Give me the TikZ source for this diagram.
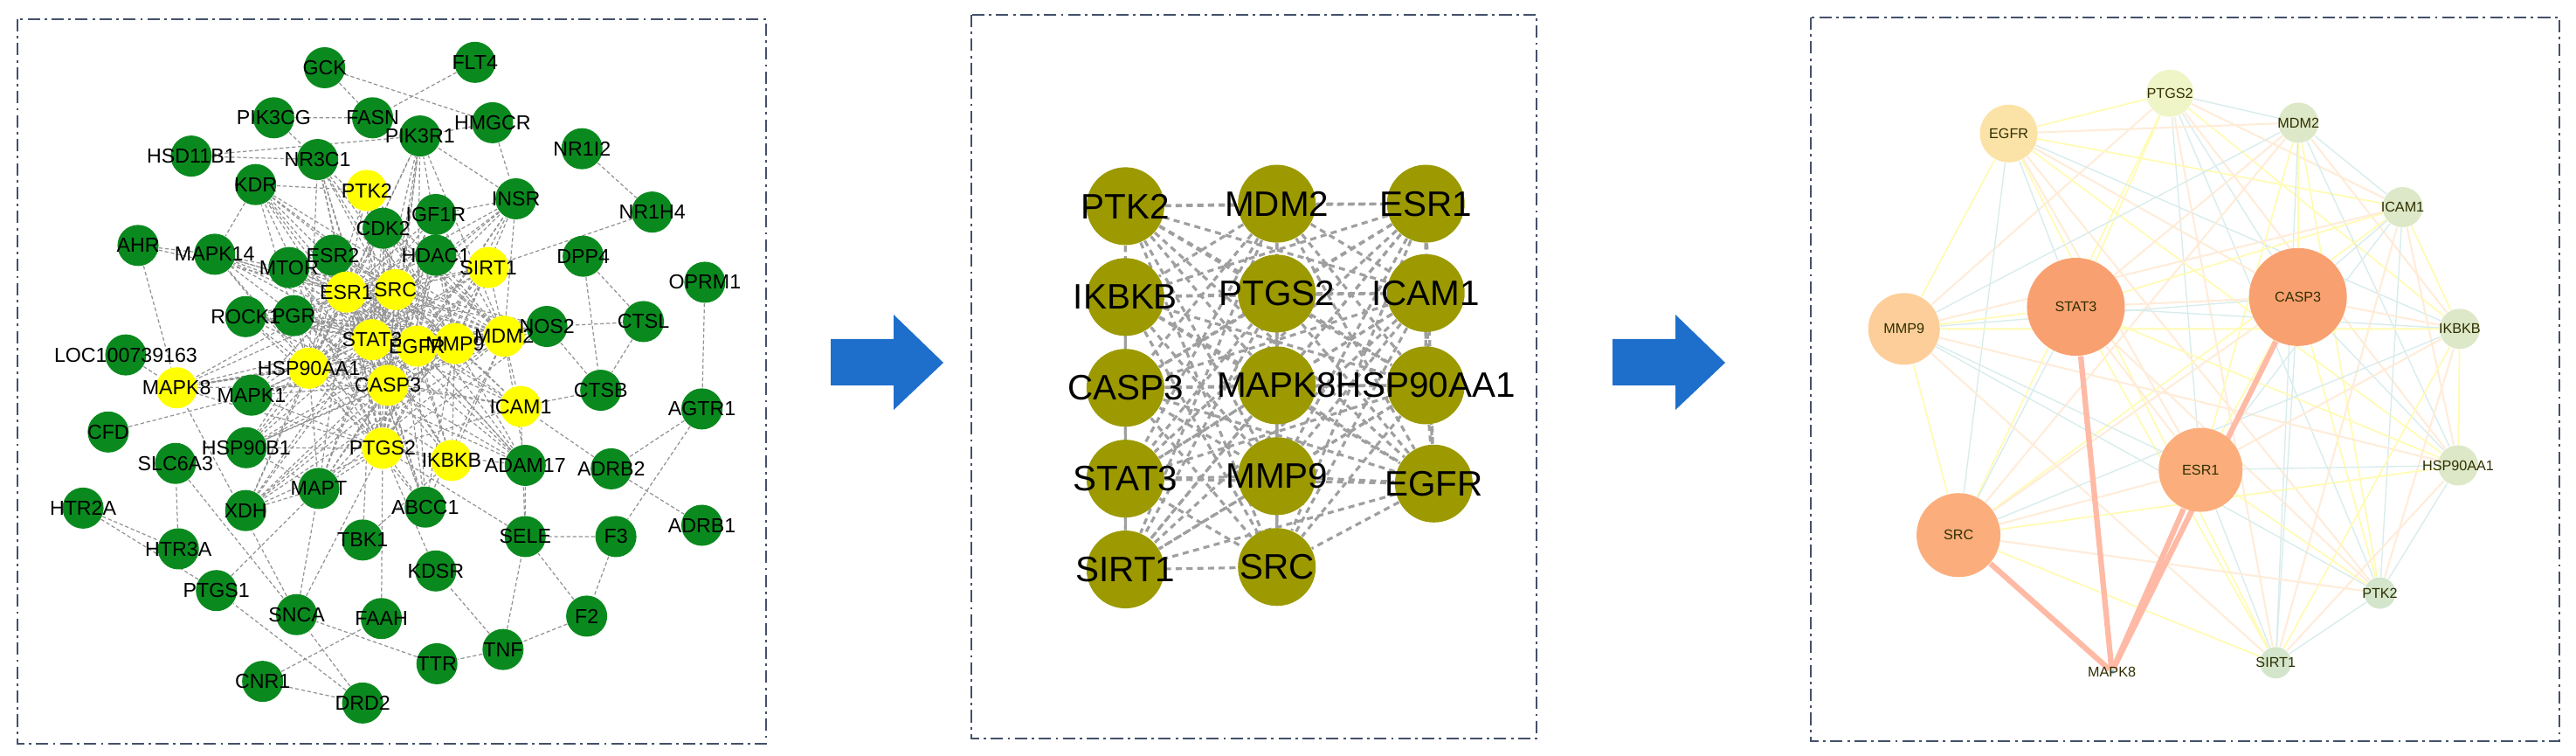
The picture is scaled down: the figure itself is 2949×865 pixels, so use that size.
\documentclass[tikz,border=0pt]{standalone}
\usepackage{fontspec}
\setmainfont{Liberation Sans}
\usetikzlibrary{arrows.meta}
\pgfdeclarelayer{bg}
\pgfsetlayers{bg,main}
\definecolor{hubyel}{HTML}{FFFF00}
\definecolor{netgrn}{HTML}{0A8A1E}
\definecolor{olive}{HTML}{9C9A00}
\definecolor{framec}{HTML}{44506A}
\definecolor{arrowc}{HTML}{1E6FCB}
\tikzset{
  frame/.style={draw=framec, line width=0.6pt, dash pattern=on 4pt off 1.5pt on 0.8pt off 1.5pt},
  gene/.style={circle, fill=netgrn, minimum size=0.47cm, inner sep=0pt},
  hub/.style={gene, fill=hubyel},
  alab/.style={inner sep=0pt, font=\fontsize{6.6}{7}\selectfont},
  aedge/.style={draw=gray!85, line width=0.35pt, dash pattern=on 1.2pt off 0.8pt},
  core/.style={circle, fill=olive, minimum size=0.89cm, inner sep=0pt},
  blab/.style={inner sep=0pt, font=\fontsize{11.5}{12}\selectfont},
  bedge/.style={draw=gray!75, line width=0.9pt, dash pattern=on 2pt off 1.5pt},
  rank/.style={circle, inner sep=0pt},
  clab/.style={inner sep=0pt, text=black!70!olive, font=\fontsize{4.6}{5}\selectfont},
  c0/.style={draw=yellow!30, line width=0.5pt},
  c1/.style={draw=teal!15, line width=0.4pt},
  c2/.style={draw=orange!15, line width=0.6pt},
  thick/.style={draw=orange!45!red!35, line width=1.8pt},
  bigarrow/.style={fill=arrowc}
}
\begin{document}
\begin{tikzpicture}[x=0.01cm, y=-0.01cm]
\useasboundingbox (0,0) rectangle (2949,865);

% panel 1: full network
\draw[frame] (20,22) rectangle (877,851);
\begin{scope}[xscale=0.6696, yscale=0.5617]
  \foreach \n/\x/\y in {GCK/555/138, FLT4/812/127, PIK3CG/468/240, FASN/637/240,
      PIK3R1/718/277, HMGCR/842/250, HSD11B1/327/318, NR3C1/543/325, NR1I2/995/303,
      KDR/437/376, INSR/882/405, IGF1R/745/437, NR1H4/1115/432, CDK2/655/465,
      AHR/236/500, MAPK14/367/518, ESR2/569/520, MTOR/494/545, HDAC1/745/520,
      DPP4/997/522, OPRM1/1205/575, ROCK1/420/645, PGR/502/643, CTSL/1100/655,
      NOS2/935/665, LOC100739163/215/723, MAPK1/430/805, CTSB/1027/795,
      AGTR1/1200/833, CFD/185/880, HSP90B1/421/912, SLC6A3/300/944, ADAM17/898/948,
      ADRB2/1045/955, MAPT/545/995, HTR2A/142/1035, XDH/420/1040, ABCC1/727/1033,
      ADRB1/1200/1070, TBK1/620/1100, SELE/898/1093, F3/1053/1093, HTR3A/305/1118,
      KDSR/745/1163, PTGS1/370/1203, SNCA/507/1252, FAAH/652/1260, F2/1003/1255,
      TNF/860/1323, TTR/747/1352, CNR1/449/1388, DRD2/620/1432}
    \node[gene] (a\n) at (\x,\y) {};
  \foreach \n/\x/\y in {PTK2/627/388, SIRT1/835/545, ESR1/592/595, SRC/676/590,
      STAT3/636/692, EGFR/713/705, MMP9/778/700, MDM2/862/685, HSP90AA1/528/750,
      MAPK8/302/790, CASP3/663/785, ICAM1/890/828, PTGS2/654/913, IKBKB/772/938}
    \node[hub] (a\n) at (\x,\y) {};
  \foreach \n in {GCK, FLT4, PIK3CG, FASN, PIK3R1, HMGCR, HSD11B1, NR3C1, NR1I2, KDR,
      INSR, IGF1R, NR1H4, CDK2, AHR, MAPK14, ESR2, MTOR, HDAC1, DPP4, OPRM1, ROCK1,
      PGR, CTSL, NOS2, LOC100739163, MAPK1, CTSB, AGTR1, CFD, HSP90B1, SLC6A3, ADAM17,
      ADRB2, MAPT, HTR2A, XDH, ABCC1, ADRB1, TBK1, SELE, F3, HTR3A, KDSR, PTGS1, SNCA,
      FAAH, F2, TNF, TTR, CNR1, DRD2, PTK2, SIRT1, ESR1, SRC, STAT3, EGFR, MMP9, MDM2,
      HSP90AA1, MAPK8, CASP3, ICAM1, PTGS2, IKBKB}
    \node[alab] at (a\n) {\n};
  \begin{pgfonlayer}{bg}
    % outer connectors
    \foreach \u/\v in {GCK/HMGCR, GCK/FASN, FLT4/FASN, PIK3CG/FASN, PIK3CG/NR3C1,
        HSD11B1/PIK3R1, HSD11B1/NR3C1, NR1I2/NR1H4, NR1H4/SIRT1, DPP4/CTSB, DPP4/CTSL,
        CTSL/NOS2, CTSL/CTSB, OPRM1/AGTR1, AGTR1/ADRB2, AGTR1/F3, ADRB2/ADRB1,
        ADRB2/ICAM1, F3/SELE, F3/F2, F2/TNF, F2/SELE, TNF/TTR, TNF/KDSR, TNF/SELE,
        TTR/SNCA, CNR1/DRD2, CNR1/FAAH, DRD2/PTGS1, DRD2/SNCA, HTR2A/HTR3A, HTR2A/PTGS1,
        HTR3A/SLC6A3, SLC6A3/SNCA, PTGS1/MAPT, SNCA/MAPT, SNCA/PTGS2, FAAH/PTGS2,
        TBK1/IKBKB, TBK1/STAT3, KDSR/PTGS2, ABCC1/ESR1, SELE/ICAM1, SELE/PTGS2,
        ADAM17/EGFR, CFD/MAPK1, LOC100739163/MAPK8, AHR/MAPK14, AHR/MAPK8, AHR/ESR1,
        INSR/IGF1R, INSR/PIK3R1, HMGCR/PIK3R1, HMGCR/INSR, KDR/PTK2, KDR/MAPK14,
        NOS2/MDM2, NOS2/CTSB, CTSB/ICAM1, ADAM17/SELE, SNCA/MAPK8, XDH/MAPT, HSP90B1/MAPT}
      \draw[aedge] (a\u) -- (a\v);
    % hub connectors
    \foreach \u in {STAT3, SRC, ESR1, EGFR, MMP9, CASP3, HSP90AA1, PTGS2, MDM2}
      \foreach \v in {PTK2, SIRT1, ICAM1, IKBKB, MAPK8, KDR, CDK2, IGF1R, HDAC1, ESR2,
          MTOR, PGR, ROCK1, MAPK14, MAPK1, HSP90B1, NR3C1, PIK3R1, INSR, NOS2, ADAM17,
          MAPT, ABCC1, XDH, STAT3, SRC, ESR1, CASP3}
        \draw[aedge] (a\u) -- (a\v);
  \end{pgfonlayer}
\end{scope}

% arrows
\fill[bigarrow] (951,388) -- (1023,388) -- (1023,360) -- (1080,415) -- (1023,469)
  -- (1023,441) -- (951,441) -- cycle;
\fill[bigarrow] (1846,388) -- (1918,388) -- (1918,360) -- (1975,415) -- (1918,469)
  -- (1918,441) -- (1846,441) -- cycle;

% panel 2: core genes
\draw[frame] (1112,17) rectangle (1759,845);
\begin{scope}[shift={(1080,0)}, xscale=0.574, yscale=0.5617]
  \foreach \n/\x/\y in {PTK2/363/420, MDM2/665/415, ESR1/962/415, IKBKB/363/605,
      PTGS2/665/598, ICAM1/962/597, CASP3/363/790, MAPK8/665/785, HSP90AA1/962/785,
      STAT3/363/975, MMP9/665/970, EGFR/978/985, SIRT1/363/1160, SRC/665/1155}
    \node[core, label={[blab]center:\n}] (b\n) at (\x,\y) {};
  \begin{pgfonlayer}{bg}
    \foreach \u [count=\i] in {PTK2, MDM2, ESR1, IKBKB, PTGS2, ICAM1, CASP3, MAPK8,
        HSP90AA1, STAT3, MMP9, EGFR, SIRT1, SRC}
      \foreach \v [count=\j] in {PTK2, MDM2, ESR1, IKBKB, PTGS2, ICAM1, CASP3, MAPK8,
          HSP90AA1, STAT3, MMP9, EGFR, SIRT1, SRC}
        {\ifnum\i<\j \draw[bedge] (b\u) -- (b\v); \fi}
  \end{pgfonlayer}
\end{scope}

% panel 3: ranked hubs
\draw[frame] (2073,20) rectangle (2930,848);
\begin{scope}[shift={(2000,0)}, xscale=0.6052, yscale=0.5617]
  \node[rank, fill={rgb,255:red,240;green,245;blue,200}, minimum size=0.54cm, label={[clab]center:PTGS2}] (cPTGS2) at (800,190) {};
  \node[rank, fill={rgb,255:red,251;green,227;blue,168}, minimum size=0.66cm, label={[clab]center:EGFR}] (cEGFR) at (495,272) {};
  \node[rank, fill={rgb,255:red,221;green,232;blue,200}, minimum size=0.46cm, label={[clab]center:MDM2}] (cMDM2) at (1043,250) {};
  \node[rank, fill={rgb,255:red,221;green,232;blue,200}, minimum size=0.46cm, label={[clab]center:ICAM1}] (cICAM1) at (1240,422) {};
  \node[rank, fill={rgb,255:red,249;green,160;blue,112}, minimum size=1.12cm, label={[clab]center:STAT3}] (cSTAT3) at (622,625) {};
  \node[rank, fill={rgb,255:red,249;green,160;blue,112}, minimum size=1.12cm, label={[clab]center:CASP3}] (cCASP3) at (1042,605) {};
  \node[rank, fill={rgb,255:red,253;green,206;blue,154}, minimum size=0.82cm, label={[clab]center:MMP9}] (cMMP9) at (297,670) {};
  \node[rank, fill={rgb,255:red,220;green,232;blue,200}, minimum size=0.46cm, label={[clab]center:IKBKB}] (cIKBKB) at (1348,670) {};
  \node[rank, fill={rgb,255:red,251;green,174;blue,124}, minimum size=0.96cm, label={[clab]center:ESR1}] (cESR1) at (858,957) {};
  \node[rank, fill={rgb,255:red,221;green,232;blue,200}, minimum size=0.46cm, label={[clab]center:HSP90AA1}] (cHSP90AA1) at (1345,948) {};
  \node[rank, fill={rgb,255:red,251;green,174;blue,124}, minimum size=0.96cm, label={[clab]center:SRC}] (cSRC) at (400,1090) {};
  \node[rank, fill={rgb,255:red,211;green,230;blue,204}, minimum size=0.36cm, label={[clab]center:PTK2}] (cPTK2) at (1197,1208) {};
  \node[rank, fill={rgb,255:red,211;green,230;blue,204}, minimum size=0.36cm, label={[clab]center:SIRT1}] (cSIRT1) at (1000,1350) {};
  \node[rank, fill=cyan!40, minimum size=0.06cm, label={[clab]center:MAPK8}] (cMAPK8) at (690,1368) {};
  \begin{pgfonlayer}{bg}
    \foreach \u [count=\i] in {PTGS2, EGFR, MDM2, ICAM1, STAT3, CASP3, MMP9, IKBKB,
        ESR1, HSP90AA1, SRC, PTK2, SIRT1}
      \foreach \v [count=\j] in {PTGS2, EGFR, MDM2, ICAM1, STAT3, CASP3, MMP9, IKBKB,
          ESR1, HSP90AA1, SRC, PTK2, SIRT1}
        {\ifnum\i<\j
          \pgfmathtruncatemacro{\k}{mod(\i+\j,3)}
          \draw[c\k] (c\u) -- (c\v);
        \fi}
    \foreach \u in {SRC, STAT3, CASP3, ESR1}
      \draw[thick] (c\u) -- (cMAPK8);
  \end{pgfonlayer}
\end{scope}
\end{tikzpicture}
\end{document}
